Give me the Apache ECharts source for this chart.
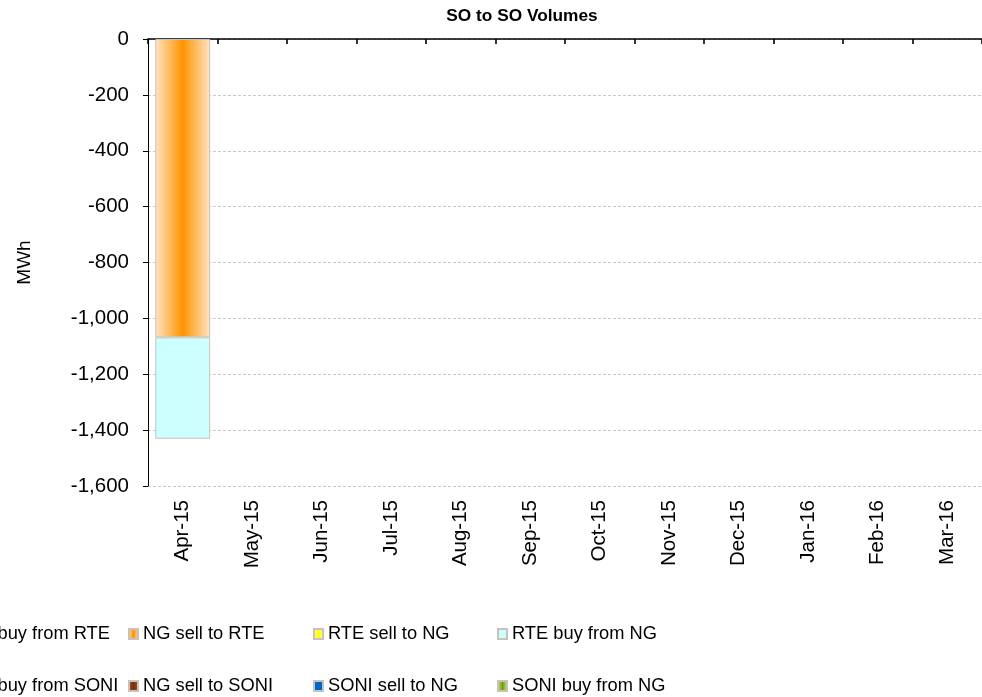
<!DOCTYPE html>
<html>
<head>
<meta charset="utf-8">
<title>SO to SO Volumes</title>
<script src="https://cdn.jsdelivr.net/npm/echarts@6/dist/echarts.min.js"></script>
<style>
  html, body { margin: 0; padding: 0; background: #fff; }
  #main { width: 982px; height: 697px; }
</style>
</head>
<body>
<div id="main"></div>
<script>
// months on the x axis
const months = ['Apr-15', 'May-15', 'Jun-15', 'Jul-15', 'Aug-15', 'Sep-15',
  'Oct-15', 'Nov-15', 'Dec-15', 'Jan-16', 'Feb-16', 'Mar-16']

// volumes in MWh (only April 2015 has trades)
const ngBuyFromRte = [null, null, null, null, null, null, null, null, null, null, null, null]
const ngSellToRte = [-1068, null, null, null, null, null, null, null, null, null, null, null]
const rteSellToNg = [null, null, null, null, null, null, null, null, null, null, null, null]
const rteBuyFromNg = [-363, null, null, null, null, null, null, null, null, null, null, null]
const ngBuyFromSoni = [null, null, null, null, null, null, null, null, null, null, null, null]
const ngSellToSoni = [null, null, null, null, null, null, null, null, null, null, null, null]
const soniSellToNg = [null, null, null, null, null, null, null, null, null, null, null, null]
const soniBuyFromNg = [null, null, null, null, null, null, null, null, null, null, null, null]

const FONT = '"Liberation Sans", Arial, sans-serif'

function stripe(edge, mid) {
  return new echarts.graphic.LinearGradient(0, 0, 1, 0, [
    { offset: 0, color: edge },
    { offset: 0.5, color: mid },
    { offset: 1, color: edge }
  ])
}

const seriesDefs = [
  { name: 'NG buy from RTE', data: ngBuyFromRte, color: stripe('#FFF0DC', '#FFC080') },
  { name: 'NG sell to RTE', data: ngSellToRte, color: stripe('#FFE4C4', '#FF9400') },
  { name: 'RTE sell to NG', data: rteSellToNg, color: stripe('#FFFFA8', '#FFFF00') },
  { name: 'RTE buy from NG', data: rteBuyFromNg, color: '#CCFFFF' },
  { name: 'NG buy from SONI', data: ngBuyFromSoni, color: stripe('#E8C8C8', '#993333') },
  { name: 'NG sell to SONI', data: ngSellToSoni, color: stripe('#B5562A', '#7A2A10') },
  { name: 'SONI sell to NG', data: soniSellToNg, color: '#0066CC' },
  { name: 'SONI buy from NG', data: soniBuyFromNg, color: stripe('#D4EAA0', '#6E9E00') }
]

// legend grid: 4 columns x 2 rows
const colX = [-50, 128, 313, 497]
const rowY = [625, 677]

const legends = seriesDefs.map((s, i) => ({
  data: [s.name],
  left: colX[i % 4],
  top: rowY[Math.floor(i / 4)],
  icon: 'rect',
  itemWidth: 9,
  itemHeight: 10,
  itemGap: 0,
  padding: 0,
  selectedMode: false,
  textStyle: { fontFamily: FONT, fontSize: 18.3, color: '#000' }
}))

const option = {
  animation: false,
  backgroundColor: '#fff',
  title: {
    text: 'SO to SO Volumes',
    left: 517,
    textAlign: 'center',
    top: 3,
    textStyle: { fontFamily: FONT, fontSize: 17.3, fontWeight: 'bold', color: '#000' }
  },
  legend: legends,
  grid: { left: 148, right: -10, top: 39, bottom: 211 },
  xAxis: [
    {
      type: 'category',
      data: months,
      position: 'bottom',
      axisLine: { show: false, onZero: false },
      axisTick: { show: false },
      axisLabel: {
        rotate: 90,
        margin: 14,
        interval: 0,
        fontFamily: FONT,
        fontSize: 20.5,
        color: '#000'
      }
    },
    {
      type: 'category',
      data: months,
      position: 'top',
      axisLine: { show: true, onZero: false, lineStyle: { color: '#000', width: 1.6 } },
      axisTick: { show: true, inside: true, length: 5, lineStyle: { color: '#000', width: 1.6 } },
      axisLabel: { show: false }
    }
  ],
  yAxis: {
    type: 'value',
    min: -1600,
    max: 0,
    interval: 200,
    name: 'MWh',
    nameLocation: 'middle',
    nameGap: 114,
    nameTextStyle: { fontFamily: FONT, fontSize: 19, color: '#000' },
    axisLine: { show: true, lineStyle: { color: '#000', width: 1 } },
    axisTick: { show: true, length: 5, lineStyle: { color: '#000' } },
    axisLabel: {
      margin: 19,
      fontFamily: FONT,
      fontSize: 20.5,
      color: '#000',
      formatter: (v) => v.toLocaleString('en-US')
    },
    splitLine: { show: true, lineStyle: { color: '#C8C8C8', type: [3, 2], width: 1 } }
  },
  series: seriesDefs.map((s) => ({
    name: s.name,
    type: 'bar',
    stack: 'so',
    xAxisIndex: 0,
    barCategoryGap: '21%',
    data: s.data,
    itemStyle: { color: s.color, borderColor: '#C9C2BA', borderWidth: 1 }
  }))
}

const chart = echarts.init(document.getElementById('main'))
chart.setOption(option)
</script>
</body>
</html>
